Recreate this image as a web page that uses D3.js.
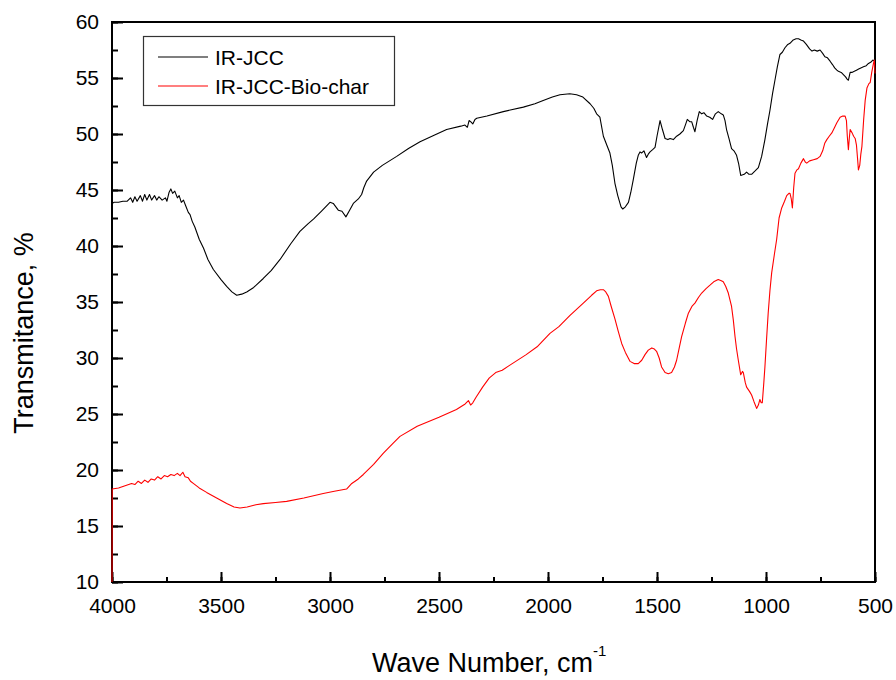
<!DOCTYPE html>
<html>
<head>
<meta charset="utf-8">
<script src="https://cdn.jsdelivr.net/npm/d3@7"></script>
<style>
  html, body { margin: 0; padding: 0; background: #fff; }
  svg { display: block; }
  text { font-family: Arial, "Liberation Sans", sans-serif; fill: #000; }
</style>
</head>
<body>
<div id="chart"></div>
<script>
// ---------- data ----------
const seriesNames = ["IR-JCC", "IR-JCC-Bio-char"];
const seriesColors = ["#000000", "#ff0000"];

const xTicks = [4000, 3500, 3000, 2500, 2000, 1500, 1000, 500];
const yTicks = [10, 15, 20, 25, 30, 35, 40, 45, 50, 55, 60];

const jccWave = [4000,3990,3970,3950,3930,3915,3905,3895,3885,3870,3860,3850,3840,3828,3818,3805,3795,3785,3770,3755,3748,3738,3730,3722,3712,3700,3692,3682,3672,3662,3650,3642,3632,3620,3600,3580,3560,3535,3500,3474,3450,3428,3405,3382,3350,3306,3270,3229,3180,3138,3100,3076,3040,3010,3000,2985,2962,2945,2927,2910,2893,2870,2855,2845,2832,2800,2760,2694,2640,2587,2520,2465,2400,2381,2370,2362,2355,2345,2335,2327,2280,2205,2113,2060,2022,1980,1945,1900,1869,1840,1807,1790,1777,1762,1746,1730,1716,1705,1693,1680,1665,1657,1645,1631,1620,1609,1595,1586,1578,1571,1560,1548,1540,1532,1520,1509,1500,1486,1475,1463,1450,1440,1425,1410,1395,1379,1368,1361,1350,1341,1333,1326,1316,1306,1295,1285,1272,1258,1245,1232,1219,1205,1196,1188,1181,1170,1158,1147,1135,1125,1116,1100,1089,1078,1066,1050,1035,1020,1005,993,982,970,959,948,936,925,913,900,890,875,862,851,840,828,815,800,789,778,765,752,740,730,718,706,695,685,675,668,655,645,635,628,622,614,606,595,585,575,565,553,540,530,520,510,500];
const jccT = [43.8,43.9,43.9,44.0,44.0,44.3,43.9,44.4,44.0,44.5,44.0,44.6,44.1,44.6,44.1,44.5,44.1,44.4,44.1,44.3,44.0,44.8,45.1,44.7,44.9,44.3,44.5,43.9,44.1,43.6,43.0,42.8,42.2,41.7,40.6,39.8,38.8,37.9,37.0,36.4,35.9,35.6,35.7,35.9,36.3,37.1,37.8,38.8,40.2,41.3,42.0,42.4,43.1,43.7,43.9,43.8,43.2,43.1,42.6,43.2,43.8,44.2,44.6,45.2,45.8,46.6,47.2,48.0,48.7,49.3,49.9,50.4,50.7,50.8,50.6,51.2,51.1,50.9,51.3,51.4,51.6,52.0,52.4,52.7,53.0,53.3,53.5,53.6,53.5,53.3,52.7,52.3,51.8,51.5,49.8,49.0,48.3,47.2,45.6,44.5,43.5,43.3,43.5,43.9,44.8,45.9,47.4,48.1,48.4,48.3,48.5,47.9,48.2,48.4,48.6,48.8,49.8,51.2,50.4,49.6,49.5,49.6,49.5,49.8,50.0,50.3,50.9,51.3,51.1,51.1,50.6,50.2,51.2,52.0,51.8,51.9,51.6,51.5,51.3,51.8,52.0,51.8,51.7,51.2,50.4,49.6,48.7,48.5,48.1,47.3,46.3,46.4,46.6,46.4,46.4,46.7,47.0,48.0,49.5,50.9,52.1,53.6,54.8,56.0,57.1,57.3,57.7,58.0,58.1,58.4,58.5,58.5,58.4,58.3,58.0,57.6,57.4,57.5,57.4,57.5,57.2,56.9,56.8,56.5,56.2,55.9,55.7,55.6,55.5,55.3,55.1,54.9,54.8,55.5,55.5,55.6,55.7,55.8,55.9,56.0,56.1,56.3,56.4,56.6,56.5];

const bioWave = [4000,3999,3970,3940,3910,3895,3880,3865,3850,3835,3820,3805,3790,3775,3760,3745,3730,3715,3700,3688,3675,3665,3650,3640,3627,3600,3566,3520,3474,3440,3413,3380,3340,3306,3250,3199,3120,3031,2980,2924,2900,2870,2847,2800,2755,2710,2679,2600,2500,2420,2380,2365,2355,2345,2330,2300,2270,2240,2210,2180,2100,2050,1991,1950,1899,1838,1800,1777,1760,1746,1735,1723,1710,1693,1678,1662,1645,1624,1605,1586,1570,1555,1540,1524,1512,1502,1490,1479,1463,1448,1433,1420,1410,1398,1387,1370,1356,1340,1326,1310,1295,1275,1257,1240,1219,1205,1196,1185,1173,1158,1150,1142,1135,1127,1116,1108,1104,1095,1089,1075,1066,1055,1043,1035,1028,1022,1017,1010,1005,998,990,982,974,962,951,940,928,915,905,895,890,884,879,873,867,858,851,840,828,820,813,800,782,765,752,740,730,721,710,698,685,675,660,648,637,631,627,622,618,614,605,598,591,585,580,576,570,565,560,552,545,537,528,522,515,507,503,500];
const bioT = [10.0,18.3,18.4,18.6,18.8,18.7,19.0,18.8,19.1,18.9,19.2,19.1,19.4,19.2,19.5,19.4,19.6,19.5,19.7,19.5,19.8,19.4,19.3,19.0,18.8,18.4,18.0,17.5,17.0,16.7,16.6,16.7,16.9,17.0,17.1,17.2,17.5,17.9,18.1,18.3,18.8,19.2,19.6,20.5,21.5,22.4,23.0,23.9,24.7,25.4,25.9,26.2,25.8,26.0,26.5,27.4,28.2,28.7,28.9,29.3,30.3,31.0,32.2,32.8,33.8,34.9,35.6,36.0,36.1,36.1,35.9,35.5,34.6,33.5,32.4,31.3,30.5,29.7,29.5,29.5,29.8,30.3,30.7,30.9,30.8,30.6,30.0,29.2,28.7,28.6,28.7,29.2,29.8,30.9,31.9,33.1,34.0,34.6,34.9,35.4,35.8,36.2,36.5,36.8,37.0,36.9,36.8,36.4,35.8,34.6,33.4,31.9,30.8,29.8,28.5,28.8,28.7,27.8,27.4,27.0,26.7,26.1,25.5,25.8,26.3,26.0,26.0,27.8,29.2,31.5,34.0,36.0,37.6,39.2,40.6,42.5,43.4,44.0,44.5,44.7,44.7,44.2,43.4,45.2,46.5,46.8,46.9,47.4,47.8,47.5,47.4,47.6,47.7,47.8,48.0,48.5,49.2,49.5,49.8,50.1,50.6,51.0,51.5,51.6,51.6,51.2,49.8,48.6,49.6,50.4,50.1,49.8,49.6,49.0,47.8,46.8,47.2,48.2,48.9,51.3,53.0,54.1,54.5,54.6,55.5,56.3,56.6,55.4];

// ---------- layout ----------
const W = 896, H = 680;
const margin = { left: 112, right: 21, top: 22, bottom: 98 };
const iw = W - margin.left - margin.right;
const ih = H - margin.top - margin.bottom;

const svg = d3.select("#chart").append("svg")
  .attr("width", W).attr("height", H);

const x = d3.scaleLinear().domain([4000, 500]).range([margin.left, margin.left + iw]);
const y = d3.scaleLinear().domain([10, 60]).range([margin.top + ih, margin.top]);

// ---------- axes ----------
const xMinor = d3.range(4000, 499, -250);
const yMinor = d3.range(10, 60.01, 2.5);

const xAxis = d3.axisBottom(x).tickValues(xTicks).tickSize(-10).tickPadding(16).tickFormat(d3.format("d"));
const xAxisMinor = d3.axisBottom(x).tickValues(xMinor).tickSize(-5).tickFormat("");
const yAxis = d3.axisLeft(y).tickValues(yTicks).tickSize(-11).tickPadding(13).tickFormat(d3.format("d"));
const yAxisMinor = d3.axisLeft(y).tickValues(yMinor).tickSize(-6).tickFormat("");

function styleAxis(g) {
  g.select(".domain").remove();
  g.selectAll("line").attr("stroke", "#000").attr("stroke-width", 2);
  g.selectAll("text").attr("font-size", 21).attr("font-family", "Arial, 'Liberation Sans', sans-serif");
}

svg.append("g").attr("transform", `translate(0,${margin.top + ih})`).call(xAxisMinor).call(styleAxis);
svg.append("g").attr("transform", `translate(0,${margin.top + ih})`).call(xAxis).call(styleAxis)
  .selectAll("text").attr("dy", "0.71em");
svg.append("g").attr("transform", `translate(${margin.left},0)`).call(yAxisMinor).call(styleAxis);
svg.append("g").attr("transform", `translate(${margin.left},0)`).call(yAxis).call(styleAxis);

// frame
svg.append("rect")
  .attr("x", margin.left).attr("y", margin.top)
  .attr("width", iw).attr("height", ih)
  .attr("fill", "none").attr("stroke", "#000").attr("stroke-width", 2);

// ---------- series ----------
const line = d3.line().x(d => x(d[0])).y(d => y(d[1]));
const series = [
  d3.zip(jccWave, jccT),
  d3.zip(bioWave, bioT)
];
const plot = svg.append("g");
series.forEach((s, i) => {
  plot.append("path")
    .datum(s)
    .attr("fill", "none")
    .attr("stroke", seriesColors[i])
    .attr("stroke-width", 1.1)
    .attr("stroke-linejoin", "round")
    .attr("d", line);
});

// ---------- axis titles ----------
const xt = svg.append("text")
  .attr("x", 372).attr("y", 672)
  .attr("font-size", 27);
xt.append("tspan").text("Wave Number, cm");
xt.append("tspan").attr("font-size", 15).attr("dy", -16).text("-1");

svg.append("text")
  .attr("transform", `translate(33,${333}) rotate(-90)`)
  .attr("text-anchor", "middle")
  .attr("font-size", 27)
  .text("Transmitance, %");

// ---------- legend ----------
const lg = svg.append("g");
lg.append("rect")
  .attr("x", 143.5).attr("y", 36.5).attr("width", 251).attr("height", 69)
  .attr("fill", "#fff").attr("stroke", "#333").attr("stroke-width", 1.2);
seriesNames.forEach((n, i) => {
  const cy = 57 + i * 29;
  lg.append("line")
    .attr("x1", 158).attr("x2", 208).attr("y1", cy).attr("y2", cy)
    .attr("stroke", seriesColors[i]).attr("stroke-width", 1.1);
  lg.append("text")
    .attr("x", 215).attr("y", cy).attr("dy", "0.36em")
    .attr("font-size", 21)
    .text(n);
});
</script>
</body>
</html>
